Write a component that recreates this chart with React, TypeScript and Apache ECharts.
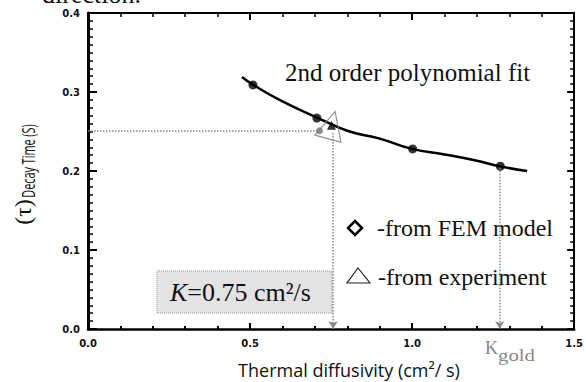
import React, { useEffect, useRef } from "react";
import * as echarts from "echarts";

// Fitted curve
const fitX = [0.475, 0.51, 0.6, 0.71, 0.8, 0.9, 1.0, 1.1, 1.2, 1.27, 1.355];
const fitY = [0.319, 0.309, 0.288, 0.267, 0.251, 0.241, 0.228, 0.221, 0.213, 0.206, 0.2];
// FEM model points
const femX = [0.508, 0.705, 1.0, 1.27];
const femY = [0.309, 0.267, 0.228, 0.206];
// Experiment point
const expX = [0.75];
const expY = [0.258];
// Interpolated K point (grey dot)
const kX = [0.713];
const kY = [0.251];
// Guide lines: [x1, y1, x2, y2]
const hGuide = [0, 0.251, 0.713, 0.251];
const vGuide1 = [0.755, 0.248, 0.755, 0.0];
const vGuide2 = [1.268, 0.204, 1.268, 0.0];
// Axis ranges
const xTicks = [0, 0.5, 1.0, 1.5];
const yTicks = [0, 0.1, 0.2, 0.3, 0.4];

const zip = (xs: number[], ys: number[]) => xs.map((x, i) => [x, ys[i]]);

const xMin = xTicks[0];
const xMax = xTicks[xTicks.length - 1];
const yMin = yTicks[0];
const yMax = yTicks[yTicks.length - 1];
const GRID = { left: 88, right: 11, top: 13, bottom: 53 };
const serif = "Liberation Serif";
const sans = "Open Sans";

function axesOption() {
  const lab = { fontSize: 10, fontWeight: "bold" as const, fontFamily: "DejaVu Sans", color: "#111" };
  const tk = (len: number, w: number) => ({ show: true, inside: true, length: len, lineStyle: { width: w, color: "#000" } });
  const mtk = (n: number, len: number, w: number) => ({ show: true, splitNumber: n, length: len, lineStyle: { width: w, color: "#000" } });
  return {
    animation: false,
    backgroundColor: "#fff",
    grid: GRID,
    xAxis: [
      {
        type: "value", min: xMin, max: xMax, interval: 0.5, position: "bottom",
        axisLine: { show: true, onZero: false, lineStyle: { color: "#000", width: 2.5 } },
        axisTick: tk(6, 2),
        minorTick: mtk(5, 3, 2),
        splitLine: { show: false },
        axisLabel: { ...lab, margin: 9, formatter: (v: number) => v.toFixed(1) },
      },
      {
        type: "value", min: xMin, max: xMax, interval: 0.5, position: "top",
        axisLine: { show: true, onZero: false, lineStyle: { color: "#000", width: 2 } },
        axisTick: tk(7, 2),
        minorTick: mtk(5, 4, 1.5),
        splitLine: { show: false },
        axisLabel: { show: false },
      },
    ],
    yAxis: [
      {
        type: "value", min: yMin, max: yMax, interval: 0.1, position: "left",
        axisLine: { show: true, onZero: false, lineStyle: { color: "#000", width: 3 } },
        axisTick: tk(9, 2),
        minorTick: mtk(10, 5, 1.5),
        splitLine: { show: false },
        axisLabel: { ...lab, margin: 8, formatter: (v: number) => v.toFixed(1) },
      },
      {
        type: "value", min: yMin, max: yMax, interval: 0.1, position: "right",
        axisLine: { show: true, onZero: false, lineStyle: { color: "#000", width: 2 } },
        axisTick: tk(7, 2),
        minorTick: mtk(10, 4, 1.5),
        splitLine: { show: false },
        axisLabel: { show: false },
      },
    ],
    series: [
      {
        type: "line", data: zip(fitX, fitY), smooth: true, symbol: "none",
        lineStyle: { color: "#000", width: 2.5 },
      },
    ],
  };
}

function overlayOption() {
  return {
    animation: false,
    grid: GRID,
    xAxis: { type: "value", min: xMin, max: xMax, show: false },
    yAxis: { type: "value", min: yMin, max: yMax, show: false },
    series: [
      {
        type: "scatter", data: zip(femX, femY), symbol: "circle", symbolSize: 9,
        itemStyle: { color: "#000" }, z: 4,
        markLine: {
          silent: true, symbol: ["none", "arrow"], symbolSize: [7, 8],
          label: { show: false },
          lineStyle: { color: "#888", type: "dotted", width: 1.5 },
          data: [
            [{ coord: [hGuide[0], hGuide[1]], symbol: "none" }, { coord: [hGuide[2], hGuide[3]], symbol: "none" }],
            [{ coord: [vGuide1[0], vGuide1[1]] }, { coord: [vGuide1[2], vGuide1[3]] }],
            [{ coord: [vGuide2[0], vGuide2[1]] }, { coord: [vGuide2[2], vGuide2[3]] }],
          ],
        },
      },
      {
        type: "scatter", data: zip(kX, kY), symbol: "circle", symbolSize: 7,
        itemStyle: { color: "#777" }, z: 4,
      },
      {
        type: "scatter", data: zip(expX, expY), symbol: "triangle", symbolSize: 9,
        itemStyle: { color: "#000" }, z: 5,
      },
      {
        type: "scatter", data: zip(expX, expY), symbol: "triangle", symbolSize: [27, 28],
        symbolRotate: -15,
        itemStyle: { color: "rgba(0,0,0,0)", borderColor: "#777", borderWidth: 1.2 }, z: 5,
      },
    ],
    graphic: [
      {
        type: "text", x: 42, y: -6,
        style: { text: "direction.", font: `26px "${serif}"`, fill: "#111", verticalAlign: "middle" },
      },
      {
        type: "text", x: 285, y: 72,
        style: { text: "2nd order polynomial fit", font: `25px "${serif}"`, fill: "#111", verticalAlign: "middle" },
      },
      {
        type: "polygon",
        shape: { points: [[355, 221], [362, 228], [355, 235], [348, 228]] },
        style: { fill: "#fff", stroke: "#000", lineWidth: 2.5 },
      },
      {
        type: "text", x: 377, y: 228,
        style: { text: "-from FEM model", font: `24px "${serif}"`, fill: "#111", verticalAlign: "middle" },
      },
      {
        type: "polygon",
        shape: { points: [[358, 268], [370, 283], [347, 283]] },
        style: { fill: "#fff", stroke: "#222", lineWidth: 1.2 },
      },
      {
        type: "text", x: 378, y: 277,
        style: { text: "-from experiment", font: `24px "${serif}"`, fill: "#111", verticalAlign: "middle" },
      },
      {
        type: "rect",
        shape: { x: 157, y: 271, width: 175, height: 42 },
        style: { fill: "#e3e3e3", stroke: "#999", lineWidth: 1, lineDash: [1, 1] },
      },
      {
        type: "text", x: 170, y: 292,
        style: {
          text: "{i|K}=0.75 cm²/s",
          font: `26px "${serif}"`, fill: "#111", verticalAlign: "middle",
          rich: { i: { fontStyle: "italic", fontFamily: serif, fontSize: 26, fill: "#111" } },
        },
      },
      {
        type: "text", x: 485, y: 348,
        style: { text: "K", font: `18px "${serif}"`, fill: "#888", verticalAlign: "middle" },
      },
      {
        type: "text", x: 498, y: 355, scaleX: 1.3,
        style: { text: "gold", font: `16px "${serif}"`, fill: "#888", verticalAlign: "middle" },
      },
      {
        type: "text", x: 349, y: 370,
        style: { text: "Thermal diffusivity (cm²/ s)", font: `18px "${sans}"`, fill: "#111", align: "center", verticalAlign: "middle" },
      },
      {
        type: "text", x: 28, y: 161, rotation: Math.PI / 2, scaleX: 0.57,
        style: { text: "Decay Time (S)", font: `19px "${sans}"`, fill: "#111", align: "center", verticalAlign: "middle" },
      },
      {
        type: "text", x: 23, y: 212, rotation: Math.PI / 2,
        style: { text: "(τ)", font: `24px "${serif}"`, fill: "#111", align: "center", verticalAlign: "middle" },
      },
    ],
  };
}

export default function App() {
  const axesRef = useRef<HTMLDivElement>(null);
  const overRef = useRef<HTMLDivElement>(null);
  useEffect(() => {
    if (!axesRef.current || !overRef.current) return;
    const c1 = echarts.init(axesRef.current, null, { renderer: "svg" });
    c1.setOption(axesOption() as any);
    const c2 = echarts.init(overRef.current, null, { renderer: "svg" });
    c2.setOption(overlayOption() as any);
    return () => {
      c1.dispose();
      c2.dispose();
    };
  }, []);
  const box = { position: "absolute" as const, left: 0, top: 0, width: 586, height: 382 };
  return (
    <div style={{ position: "fixed", left: 0, top: 0, width: 586, height: 382, background: "#fff" }}>
      <div ref={axesRef} style={box} />
      <div ref={overRef} style={box} />
    </div>
  );
}
